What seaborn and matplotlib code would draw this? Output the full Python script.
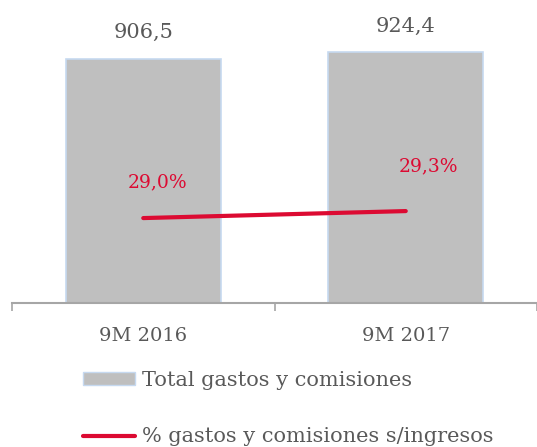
import matplotlib.pyplot as plt
import seaborn as sns
import pandas as pd
from matplotlib.patches import Patch
from matplotlib.lines import Line2D

periods = ["9M 2016", "9M 2017"]
total_gastos = [906.5, 924.4]
pct_gastos = [29.0, 29.3]
bar_labels = ["906,5", "924,4"]
pct_labels = ["29,0%", "29,3%"]
legend_labels = ["Total gastos y comisiones", "% gastos y comisiones s/ingresos"]

GREY = "#bfbfbf"
EDGE = "#c6d9f0"
RED = "#dc0a32"
TEXT = "#595959"
# label offsets for the % labels (points)
PCT_OFFSETS = [(10, 26), (16, 32)]

sns.set_theme(style="white")
plt.rcParams["font.family"] = ["DejaVu Serif"]

df = pd.DataFrame({"period": periods, "total": total_gastos, "pct": pct_gastos})

fig = plt.figure(figsize=(5.37, 4.47), dpi=100)
ax = fig.add_axes([12 / 537, (447 - 303) / 447, 525 / 537, (303 - 34) / 447])

sns.barplot(data=df, x="period", y="total", ax=ax, color=GREY, width=0.59,
            edgecolor=EDGE, linewidth=1.2, saturation=1)
ax.set_ylim(250, 974)
ax.set_xlim(-0.5, 1.5)

for i, lab in enumerate(bar_labels):
    ax.annotate(lab, (i, total_gastos[i]), xytext=(0, 19), textcoords="offset points",
                ha="center", va="center", fontsize=15, color=TEXT)

ax2 = ax.twinx()
sns.lineplot(data=df, x="period", y="pct", ax=ax2, color=RED, linewidth=3)
ax2.set_ylim(25.36, 36.89)
for i, lab in enumerate(pct_labels):
    ax2.annotate(lab, (i, pct_gastos[i]), xytext=PCT_OFFSETS[i], textcoords="offset points",
                 ha="center", va="center", fontsize=13.5, color=RED)

for a in (ax, ax2):
    a.set_xlabel("")
    a.set_ylabel("")
    a.set_yticks([])
    for s in ["top", "right", "left"]:
        a.spines[s].set_visible(False)
ax2.spines["bottom"].set_visible(False)
ax.spines["bottom"].set_color("#a6a6a6")
ax.spines["bottom"].set_linewidth(1.5)

ax.set_xticks([-0.5, 0.5, 1.5], minor=True)
ax.tick_params(axis="x", which="minor", bottom=True, length=6, width=1.2, color="#a6a6a6")
ax.tick_params(axis="x", which="major", bottom=False, length=0, pad=17.5, labelsize=14,
               labelcolor=TEXT)

handles = [Patch(facecolor=GREY, edgecolor=EDGE, linewidth=1),
           Line2D([], [], color=RED, linewidth=3)]
fig.legend(handles, legend_labels, loc="upper left", bbox_to_anchor=(83 / 537, 1 - 371 / 447),
           frameon=False, fontsize=15, labelcolor=TEXT, handlelength=2.5, handleheight=0.6,
           handletextpad=0.34, labelspacing=1.8, borderpad=0, borderaxespad=0)

fig.savefig("out.png", dpi=100)
